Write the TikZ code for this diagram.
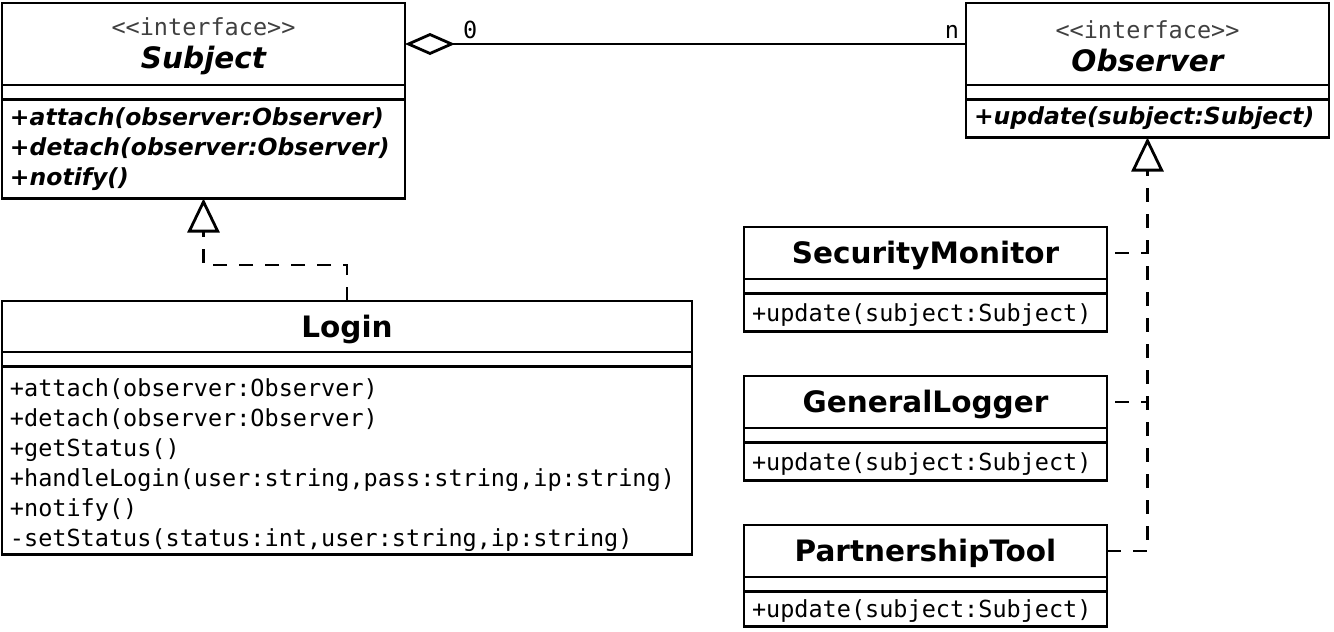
\documentclass[tikz,border=0pt]{standalone}
\usepackage{fontspec}
\setmainfont{DejaVu Sans}
\newfontfamily\umlmonofont{DejaVu Sans Mono}
\usepackage{tikz}
\usetikzlibrary{positioning,arrows.meta}

\newcommand{\umltitle}{\fontsize{14.75}{17}\selectfont\bfseries}
\newcommand{\umlabstract}{\fontsize{14.75}{17}\selectfont\bfseries\itshape}
\newcommand{\umlstereo}{\umlmonofont\fontsize{11.75}{15}\selectfont\color{black!75}}
\newcommand{\umlmember}{\umlmonofont\fontsize{11.75}{15}\selectfont}
\newcommand{\umlabsmember}{\fontsize{11.75}{15}\selectfont\bfseries\itshape}

\tikzset{
    classhead/.style={
    rectangle,draw=black,line width=1.4pt,inner sep=0pt,outer sep=0pt,minimum width=#1,align=center,font=\fontsize{11.75}{16.5}\selectfont
    },
    classtitle/.style={
    font=\umltitle,text height=10.8pt,text depth=0pt
    },
    classgap/.style={
    rectangle,draw=black,line width=1.4pt,inner sep=0pt,outer sep=0pt,minimum width=#1,minimum height=7.25pt
    },
    classbody/.style={
    rectangle,draw=black,line width=1.4pt,inner xsep=4pt,inner ysep=0pt,outer sep=0pt,text width=#1,align=left
    },
    monobody/.style={font=\umlmember,text depth=0pt},
    mult/.style={font=\umlmember,inner sep=2pt},
  aggr/.style={draw, line width=1.4pt, -{Diamond[open,length=25pt,width=11pt]}},
  realize/.style={draw, line width=1.4pt, dash pattern=on 7pt off 6pt, -{Triangle[open,length=17pt,width=16pt]}},
  realizeline/.style={draw, line width=1.4pt, dash pattern=on 7pt off 6pt, dash phase=9pt},
}

\begin{document}
\begin{tikzpicture}[x=0.5pt,y=-0.5pt]
\useasboundingbox (0,0) rectangle (1334,632);

  % interfaces
  \node[classhead=201.5pt,minimum height=41pt,anchor=north west] (subjhead) at (2,3) {{\umlstereo\rule{0pt}{11.4pt}<{}<interface>{}>}\\{\umlabstract Subject}};
  \node[classgap=201.5pt,below=0pt of subjhead] (subjgap) {};
  \node[classbody=193.5pt,minimum height=49.5pt,font=\umlabsmember,below=0pt of subjgap] (subjbody) {+attach(observer:Observer)\\+detach(observer:Observer)\\+notify()};

  \node[classhead=181.5pt,minimum height=41pt,anchor=north west] (obshead) at (966,3) {{\umlstereo\rule{0pt}{11.4pt}<{}<interface>{}>}\\{\umlabstract Observer}};
  \node[classgap=181.5pt,below=0pt of obshead] (obsgap) {};
  \node[classbody=173.5pt,minimum height=19pt,font=\umlabsmember,below=0pt of obsgap] (obsbody) {+update(subject:Subject)};

  % concrete subject
  \node[classhead=345pt,minimum height=25.5pt,anchor=north west,classtitle] (loginhead) at (2,301) {Login};
  \node[classgap=345pt,below=0pt of loginhead] (logingap) {};
  \node[classbody=337pt,minimum height=94pt,font=\umlmember,below=0pt of logingap] (loginbody) {\rule{0pt}{13.4pt}+attach(observer:Observer)\\+detach(observer:Observer)\\+getStatus()\\+handleLogin(user:string,pass:string,ip:string)\\+notify()\\-setStatus(status:int,user:string,ip:string)};

  % concrete observers
  \node[classhead=181.5pt,minimum height=26pt,anchor=north west,classtitle] (sechead) at (744,227) {SecurityMonitor};
  \node[classgap=181.5pt,below=0pt of sechead] (secgap) {};
  \node[classbody=173.5pt,minimum height=19pt,monobody,below=0pt of secgap] (secbody) {+update(subject:Subject)};

  \node[classhead=181.5pt,minimum height=26pt,anchor=north west,classtitle] (loghead) at (744,376) {GeneralLogger};
  \node[classgap=181.5pt,below=0pt of loghead] (loggap) {};
  \node[classbody=173.5pt,minimum height=19pt,monobody,below=0pt of loggap] (logbody) {+update(subject:Subject)};

  \node[classhead=181.5pt,minimum height=26pt,anchor=north west,classtitle] (parthead) at (744,525) {PartnershipTool};
  \node[classgap=181.5pt,below=0pt of parthead] (partgap) {};
  \node[classbody=173.5pt,minimum height=17.5pt,monobody,below=0pt of partgap] (partbody) {+update(subject:Subject)};

  % relations
  \path[aggr] (obshead.west) -- node[mult,pos=0.025,above] {n} node[mult,pos=0.884,above] {0} (subjhead.east);
  \path[realize] (loginhead.north) -- ++(0,-36) -| (subjbody.south);
  \path[realize] (parthead.east) -| (obsbody.south);
  \path[realizeline] (sechead.east) -- (sechead.east -| obsbody.south);
  \path[realizeline] (loghead.east) -- (loghead.east -| obsbody.south);
\end{tikzpicture}
\end{document}
